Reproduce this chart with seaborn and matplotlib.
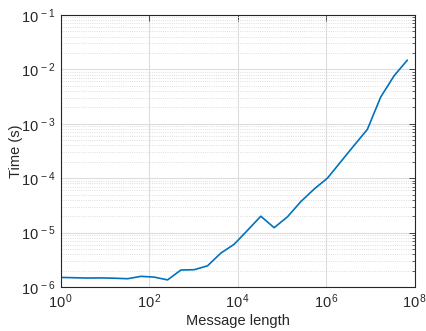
import numpy as np
import pandas as pd
import matplotlib
matplotlib.use("Agg")
import matplotlib.pyplot as plt
import matplotlib.ticker as mticker
import seaborn as sns

# message lengths: powers of two, 2^0 .. 2^26
exponents = list(range(27))
message_length = [2 ** e for e in exponents]
time_s = [
    1.50e-6, 1.48e-6, 1.46e-6, 1.47e-6, 1.45e-6, 1.42e-6,
    1.57e-6, 1.52e-6, 1.35e-6, 2.05e-6, 2.08e-6, 2.45e-6,
    4.2e-6, 6.1e-6, 1.1e-5, 2.0e-5, 1.23e-5, 1.95e-5,
    3.7e-5, 6.3e-5, 1.0e-4, 2.0e-4, 4.0e-4, 7.9e-4,
    3.1e-3, 7.6e-3, 1.48e-2,
]

df = pd.DataFrame({"Message length": message_length, "Time (s)": time_s})

sns.set_style("white")
plt.rcParams["font.family"] = ["Liberation Sans", "DejaVu Sans"]
plt.rcParams["mathtext.fontset"] = "custom"
plt.rcParams["mathtext.rm"] = "Liberation Sans"
plt.rcParams["mathtext.it"] = "Liberation Sans"

fig = plt.figure(figsize=(4.27, 3.31), dpi=100)
ax = fig.add_axes([61 / 427, 1 - 287 / 331, (415 - 61) / 427, (287 - 15) / 331])

sns.lineplot(data=df, x="Message length", y="Time (s)", ax=ax,
             color="#0072BD", linewidth=1.2)

ax.set_xscale("log")
ax.set_yscale("log")
ax.set_xlim(1, 1e8)
ax.set_ylim(1e-6, 1e-1)


def pow_label(v, pos):
    e = int(round(np.log10(v)))
    return r"$\mathregular{10^{\,%d}}$" % e


ax.xaxis.set_major_locator(mticker.FixedLocator([1e0, 1e2, 1e4, 1e6, 1e8]))
ax.xaxis.set_minor_locator(mticker.NullLocator())
ax.xaxis.set_major_formatter(mticker.FuncFormatter(pow_label))
ax.yaxis.set_major_locator(mticker.LogLocator(base=10, numticks=10))
ax.yaxis.set_minor_locator(mticker.LogLocator(base=10, subs=np.arange(2, 10), numticks=20))
ax.yaxis.set_minor_formatter(mticker.NullFormatter())
ax.yaxis.set_major_formatter(mticker.FuncFormatter(pow_label))

ax.grid(which="major", color="#dcdcdc", linewidth=0.8, linestyle="-")
ax.grid(which="minor", axis="y", color="#d4d4d4", linewidth=0.6, linestyle=":")
ax.set_axisbelow(True)

ax.tick_params(which="both", direction="in", top=True, right=True,
               labelsize=10.5, colors="#262626", pad=4)
ax.tick_params(which="major", length=4, width=0.6)
ax.tick_params(which="minor", length=2, width=0.5)

for spine in ax.spines.values():
    spine.set_color("#262626")
    spine.set_linewidth(0.8)

ax.set_xlabel("Message length", fontsize=10.5, color="#262626")
ax.set_ylabel("Time (s)", fontsize=10.5, color="#262626")
ax.yaxis.set_label_coords(-0.128, 0.5)
ax.xaxis.set_label_coords(0.5, -0.125)
ax.xaxis.label.set_va("center")
ax.yaxis.label.set_va("center")

fig.savefig("out.png", dpi=100)
